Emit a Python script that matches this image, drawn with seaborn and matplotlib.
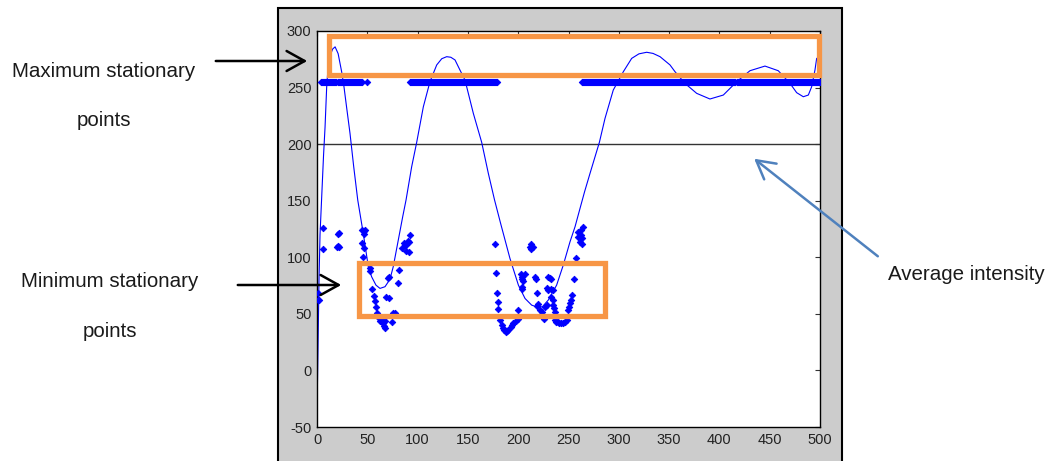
import matplotlib
matplotlib.use("Agg")
import matplotlib.pyplot as plt
from matplotlib.patches import Rectangle, FancyArrowPatch
import seaborn as sns
import numpy as np
import pandas as pd

W, H = 1057, 461

# intensity profile (smooth curve)
curve_x = [0, 1, 2, 3, 4.5, 6.5, 8, 9.6, 11, 13, 15.5, 18, 21, 24.5, 26.8, 29.8, 32.8, 36.5,
           40.5, 46, 51, 54.3, 58.6, 62.6, 67.6, 72.5, 75.8, 80.8, 85.2, 88.5, 94.1, 99.1,
           105.7, 112.3, 119, 124, 128.9, 133, 137.2, 142.1, 147.1, 155.4, 163.7, 170.3, 176.5, 182.5,
           191.8, 200.2, 206.8, 213.4, 219, 224, 229.9, 238.2, 244.8, 251.5, 256.5, 262,
           266, 271.4, 280.7, 286.3, 294.5, 304.5, 312.8, 320, 327.7, 334, 341, 350.9, 355.9, 365.8,
           377.4, 390.6, 403.9, 417.2, 430.4, 445.3, 458.5, 470.2, 476.8, 483.4, 488.4,
           491.7, 495, 496.7]
curve_y = [-37, 20, 80, 120, 150, 190, 215, 250, 268, 278, 284, 286, 280, 264, 250.8, 230, 209.6, 180,
           150.6, 121, 91.7, 82.8, 75.4, 72.5, 74, 80.5, 91.7, 115.2, 135.9, 150.6, 180, 201.6,
           233, 255.2, 270, 275.5, 277.3, 276.8, 274.4, 265.5, 256.7, 227.2, 201.6, 174.2, 150.6, 130,
           99, 75.4, 63.6, 57.7, 56, 56.3, 62.2, 75.4, 93.1, 113.7, 127, 145,
           158, 174.2, 201.6, 222.8, 247.8, 264, 275.8, 279.8, 281.2, 280.2, 277.3, 270, 264, 253.7,
           244.9, 239.9, 243.4, 255.2, 264.9, 269, 264.9, 253.7, 245.5, 241.9, 243.4,
           250.7, 265.5, 275.9]

# maximum stationary points: all at 255, runs of consecutive samples
max_level = 255
max_runs = [(4, 19), (21, 45), (50, 50), (92, 179), (263, 500)]

# minimum stationary points
min_x = [1, 1, 2, 5.6, 6.3,
         20.5, 21.5, 20, 22, 21,
         44.7, 46.5, 48, 47, 44.7, 46.4, 45.4, 53, 52.5, 54.7, 56.3, 58, 58.6, 59.6, 61,
         63, 64.6, 65.3, 66.3, 67.3, 68, 66, 68.6, 72, 70.6, 72, 74.5, 76, 78, 80.5, 81.8,
         84.5, 86.1, 88.8, 91.1, 88.8, 92.8, 91.1, 90, 87,
         176.9, 177.9, 179.2, 180.2, 180.2, 182, 183.6, 185.3, 187.6, 190.2, 192.9, 195.2,
         197.5, 200.2, 186, 189, 194, 200.2, 211.7, 213, 214.4, 212.5, 202.8, 204, 206.7,
         203.6, 205, 203.3, 204, 216.6, 217.3, 218.3, 220, 218.3, 221.7, 223.3, 225.9,
         228.3, 226.6, 229.9, 231.6, 232.6, 228.3, 229.9, 234.3, 232.6, 232.6, 234.3, 235,
         235.6, 236.3, 236.3, 238, 239.6, 241, 242.9, 244.5, 246.2, 248.5, 249.5, 250.5,
         251.8, 252.8, 253.8, 255.8, 257.1, 259.1, 264.7, 262.4, 259.8, 263.8, 261.4, 262, 263]
min_y = [68, 62, 62, 107, 126,
         120.8, 121.5, 109.3, 109.5, 110,
         124.5, 123, 124, 120.5, 113, 107.8, 100.5, 90.2, 87.8, 71.9, 66, 61.3, 56.3, 50.4, 47,
         43.6, 43, 41.5, 39.5, 37.1, 44, 45.5, 65.1, 63.6, 81.9, 82.8, 42.4, 50.4, 50.4, 76.9, 88.7,
         107.8, 112.3, 110.8, 113.7, 105.5, 119.6, 104.9, 114, 111,
         111.7, 85.7, 68.6, 60.7, 54.2, 44.5, 40, 37.1, 34.2, 35.6, 38.6, 41.5,
         43.6, 45.4, 36, 35, 40, 53.3, 109.3, 111.4, 108.7, 107, 84.8, 82.5, 85.5,
         80.4, 79, 74, 71.9, 82.8, 80.7, 68.6, 58.3, 57.1, 53.3, 51.8, 45.4,
         57.7, 56.3, 82.8, 81.9, 80.7, 72.5, 71, 71, 71.9, 65.1, 62.2, 57.7,
         54.8, 51.8, 44.5, 43, 42.4, 42, 41.5, 42, 42.4, 44.5, 53.3, 56.3,
         59.2, 62.2, 66.6, 80.7, 99, 122.6, 127, 124, 118.1, 116.7, 113.7, 120, 112]

avg_level = 200
x_ticks = list(range(0, 501, 50))
y_ticks = list(range(-50, 301, 50))

max_x = np.concatenate([np.arange(a, b + 1) for a, b in max_runs])
curve = pd.DataFrame({"x": curve_x, "y": curve_y})
pts = pd.DataFrame({"x": np.concatenate([max_x, min_x]),
                    "y": np.concatenate([np.full(len(max_x), max_level), min_y])})

sns.set_style("white")
plt.rcParams['font.family'] = ['Liberation Sans', 'DejaVu Sans']
plt.rcParams['axes.unicode_minus'] = False

fig = plt.figure(figsize=(W / 100, H / 100), dpi=100)
fig.patch.set_facecolor("white")


def fp(x, y):
    # pixel position -> figure fraction
    return x / W, 1 - y / H


# grey matlab-like window
fig.add_artist(Rectangle(fp(278, 475), (842 - 278) / W, (475 - 8) / H, transform=fig.transFigure,
                         facecolor="#cccccc", edgecolor="black", lw=1.5, zorder=-5))

ax = fig.add_axes([317 / W, 1 - 427 / H, (820 - 317) / W, (427 - 31) / H])
ax.set_facecolor("white")

ax.axhline(avg_level, color="#333333", lw=1.0, zorder=1)
sns.lineplot(data=curve, x="x", y="y", sort=False, estimator=None, color="blue", lw=0.8, ax=ax, zorder=2)
sns.scatterplot(data=pts, x="x", y="y", marker="D", s=11, color="blue", edgecolor="blue",
                linewidth=0.6, ax=ax, zorder=3)

ax.set_xlim(0, 500)
ax.set_ylim(-50, 300)
ax.set_xticks(x_ticks)
ax.set_yticks(y_ticks)
ax.set_xlabel("")
ax.set_ylabel("")
ax.tick_params(direction="in", length=3.5, width=0.8, top=True, right=True, labelsize=10.5,
               labelcolor="#222222", color="#333333", pad=4)
for s in ax.spines.values():
    s.set_color("black")
    s.set_linewidth(1.0)

# orange highlight boxes
orange = "#f79646"
ax.add_patch(Rectangle((12, 261.5), 487, 34.5, fill=False, edgecolor=orange, lw=3.8, clip_on=False, zorder=10))
ax.add_patch(Rectangle((42.2, 48), 244, 47, fill=False, edgecolor=orange, lw=3.8, clip_on=False, zorder=10))

# arrows
def arrow(p0, p1, color):
    fig.add_artist(FancyArrowPatch(fp(*p0), fp(*p1), transform=fig.transFigure,
                                   arrowstyle="->,head_length=0.65,head_width=0.36",
                                   mutation_scale=20, lw=1.8, color=color, zorder=20))

arrow((213, 61), (310, 61), "black")
arrow((235, 285), (344, 285), "black")
arrow((880, 258), (752, 157), "#4f81bd")

txt = dict(ha="center", va="baseline", fontsize=14.8, color="#1a1a1a", zorder=20)
fig.text(*fp(103.5, 77), "Maximum stationary", **txt)
fig.text(*fp(103.5, 126), "points", **txt)
fig.text(*fp(110, 287), "Minimum stationary", **txt)
fig.text(*fp(110, 337), "points", **txt)
fig.text(*fp(966.5, 280), "Average intensity", **txt)

fig.savefig("out.png", dpi=100, facecolor="white")
